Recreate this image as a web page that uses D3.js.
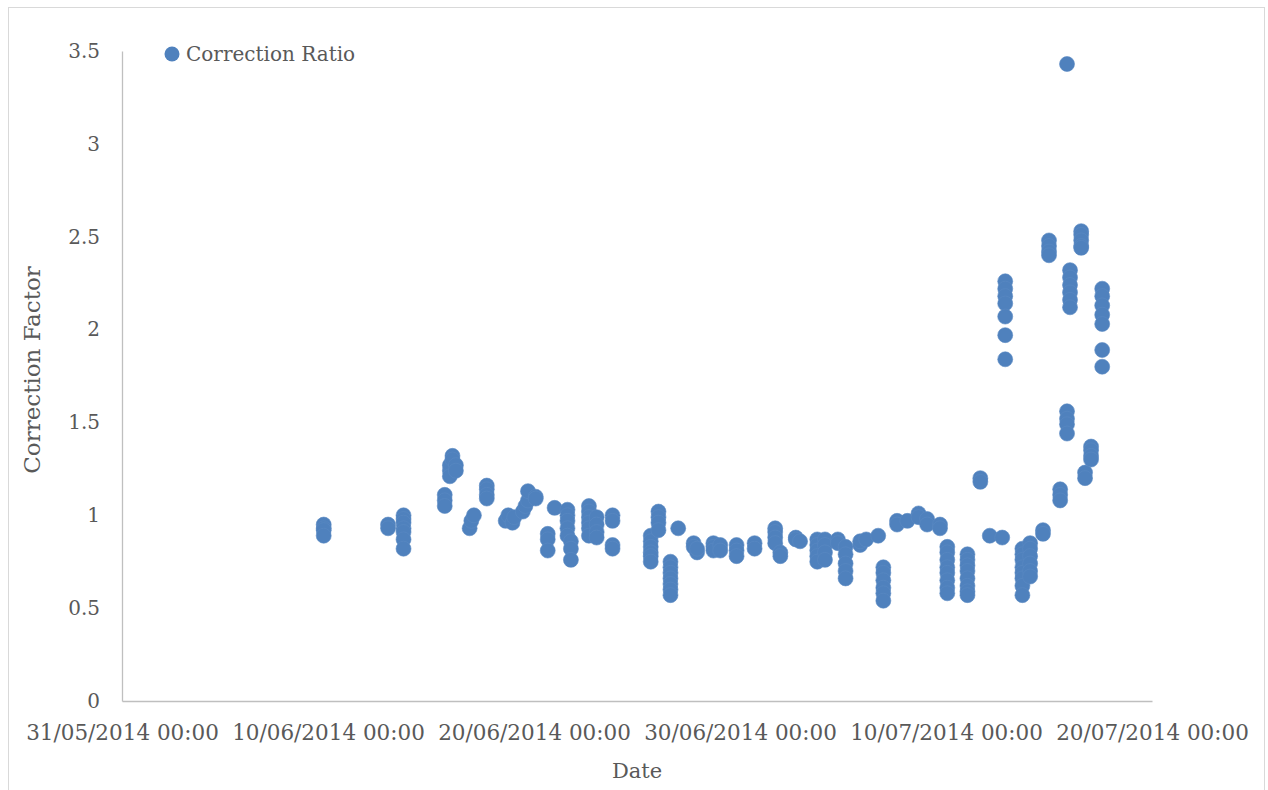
<!DOCTYPE html>
<html><head><meta charset="utf-8">
<script src="https://cdn.jsdelivr.net/npm/d3@7"></script>
<style>html,body{margin:0;padding:0;background:#fff;}</style>
</head><body>
<svg id="chart" width="1268" height="790"></svg>
<script>
// Sample time of each vertical stack of readings
const sampleTimes = [
  "09/06/2014 19:00","12/06/2014 22:00","13/06/2014 16:00","15/06/2014 16:00","15/06/2014 22:00",
  "16/06/2014 01:00","16/06/2014 05:00","16/06/2014 21:00","16/06/2014 23:00","17/06/2014 02:00",
  "17/06/2014 17:00","18/06/2014 15:00","18/06/2014 18:00","18/06/2014 23:00","19/06/2014 01:00",
  "19/06/2014 11:00","19/06/2014 14:00","19/06/2014 17:00","20/06/2014 02:00","20/06/2014 16:00",
  "21/06/2014 00:00","21/06/2014 15:00","21/06/2014 19:00","22/06/2014 16:00","23/06/2014 01:00",
  "23/06/2014 19:30","25/06/2014 16:00","26/06/2014 01:00","26/06/2014 15:00","27/06/2014 00:00",
  "27/06/2014 18:00","27/06/2014 22:00","28/06/2014 17:00","29/06/2014 01:00","29/06/2014 20:00",
  "30/06/2014 17:00","01/07/2014 17:00","01/07/2014 23:00","02/07/2014 17:00","02/07/2014 22:00",
  "03/07/2014 18:00","04/07/2014 03:00","04/07/2014 18:00","05/07/2014 03:00","05/07/2014 20:00",
  "06/07/2014 03:00","06/07/2014 17:00","06/07/2014 23:00","07/07/2014 15:00","08/07/2014 03:00",
  "08/07/2014 16:00","09/07/2014 02:00","09/07/2014 17:00","10/07/2014 01:30","11/07/2014 01:00",
  "11/07/2014 16:00","12/07/2014 03:00","12/07/2014 17:30","12/07/2014 21:00","13/07/2014 17:00",
  "14/07/2014 02:00","14/07/2014 17:00","15/07/2014 00:00","15/07/2014 13:00","15/07/2014 21:00",
  "16/07/2014 00:30","16/07/2014 13:30","16/07/2014 18:00","17/07/2014 01:00","17/07/2014 14:00"
];
// Correction ratio readings at each sample time
const ratioStacks = [
  [0.95,0.93,0.92,0.89],[0.95,0.93],[1.00,0.98,0.96,0.93,0.91,0.87,0.82],[1.11,1.08,1.05],[1.24,1.27,1.21],
  [1.32,1.30],[1.27,1.24],[0.93],[0.97],[1.00],
  [1.16,1.14,1.11,1.09],[0.97],[1.00],[0.96],[0.99],
  [1.02],[1.05],[1.08,1.13],[1.10,1.09],[0.90,0.87,0.81],
  [1.04],[1.03,1.00,0.97,0.93,0.89],[0.86,0.82,0.76],[1.05,1.02,0.99,0.96,0.93,0.89],[0.99,0.95,0.91,0.88],
  [1.00,0.97,0.84,0.82],[0.89,0.86,0.83,0.80,0.78,0.75],[1.02,0.99,0.96,0.92],[0.75,0.72,0.69,0.66,0.63,0.60,0.57],[0.93],
  [0.85,0.83],[0.80,0.82],[0.85,0.83,0.81],[0.84,0.81],[0.84,0.81,0.78],
  [0.85,0.82],[0.93,0.91,0.88,0.85],[0.80,0.78],[0.88,0.87],[0.86],
  [0.87,0.84,0.81,0.78,0.75],[0.87,0.84,0.80,0.76],[0.87,0.85],[0.83,0.79,0.74,0.70,0.66],[0.84,0.86],
  [0.87],[0.89],[0.72,0.69,0.65,0.61,0.58,0.54],[0.97,0.95],[0.97],
  [1.01,0.99],[0.98,0.95],[0.95,0.93],[0.83,0.80,0.76,0.72,0.69,0.65,0.61,0.58],[0.79,0.76,0.73,0.70,0.66,0.62,0.59,0.57],
  [1.20,1.18],[0.89],[0.88],[2.26,2.22,2.18,2.14,2.07,1.97,1.84],[0.82,0.79,0.76,0.72,0.69,0.66,0.62,0.57],
  [0.85,0.82,0.78,0.74,0.70,0.67],[0.92,0.90],[2.48,2.45,2.42,2.40],[1.14,1.11,1.08],[3.43,1.56,1.52,1.49,1.44],
  [2.32,2.28,2.24,2.20,2.16,2.12],[2.53,2.51,2.48,2.45,2.44],[1.23,1.20],[1.37,1.35,1.32,1.30],[2.22,2.18,2.13,2.08,2.03,1.89,1.80]
];
const xTickLabels = ["31/05/2014 00:00","10/06/2014 00:00","20/06/2014 00:00","30/06/2014 00:00","10/07/2014 00:00","20/07/2014 00:00"];
const yTicks = [0,0.5,1,1.5,2,2.5,3,3.5];
const seriesName = "Correction Ratio";
const xTitle = "Date";
const yTitle = "Correction Factor";

const parse = d3.utcParse("%d/%m/%Y %H:%M");
const fmt = d3.utcFormat("%d/%m/%Y %H:%M");
const points = [];
sampleTimes.forEach((t, i) => ratioStacks[i].forEach(v => points.push({date: parse(t), value: v})));

const svg = d3.select("#chart");
const FONT = "'DejaVu Serif', serif";
const TXT = "#595959";
const AX = "#bfbfbf";
const COL = "#4f81bd";

svg.append("rect").attr("x", 8.5).attr("y", 7.5).attr("width", 1256).attr("height", 800)
  .attr("fill", "#fff").attr("stroke", "#d9d9d9").attr("stroke-width", 1);

const xTickDates = xTickLabels.map(parse);
const x = d3.scaleUtc().domain([xTickDates[0], xTickDates[xTickDates.length - 1]]).range([122, 1152]);
const y = d3.scaleLinear().domain([0, 3.5]).range([701, 51]);

const xAxis = svg.append("g").attr("transform", "translate(0,701)")
  .call(d3.axisBottom(x).tickValues(xTickDates).tickFormat(fmt).tickSize(0).tickSizeOuter(0).tickPadding(24));
xAxis.select(".domain").attr("stroke", AX).attr("stroke-width", 1.3);
xAxis.selectAll("text").attr("font-family", FONT).attr("font-size", 21.5).attr("fill", TXT);

const yAxis = svg.append("g").attr("transform", "translate(122,0)")
  .call(d3.axisLeft(y).tickValues(yTicks).tickFormat(d3.format("")).tickSize(0).tickSizeOuter(0).tickPadding(22));
yAxis.select(".domain").attr("stroke", AX).attr("stroke-width", 1.3);
yAxis.selectAll("text").attr("font-family", FONT).attr("font-size", 20).attr("fill", TXT);

svg.append("g").selectAll("circle").data(points).join("circle")
  .attr("cx", d => x(d.date)).attr("cy", d => y(d.value)).attr("r", 7.5)
  .attr("fill", COL).attr("stroke", "#5b8ac2").attr("stroke-width", 0.6);

svg.append("text").attr("x", (122 + 1152) / 2).attr("y", 778).attr("text-anchor", "middle")
  .attr("font-family", FONT).attr("font-size", 21).attr("fill", TXT).text(xTitle);
svg.append("text").attr("transform", "translate(40,370) rotate(-90)").attr("text-anchor", "middle")
  .attr("font-family", FONT).attr("font-size", 23).attr("fill", TXT).text(yTitle);

const leg = svg.append("g");
leg.append("circle").attr("cx", 172).attr("cy", 54).attr("r", 7.5).attr("fill", COL);
leg.append("text").attr("x", 186).attr("y", 54).attr("dy", "0.35em")
  .attr("font-family", FONT).attr("font-size", 20).attr("fill", TXT).text(seriesName);
</script>
</body></html>
